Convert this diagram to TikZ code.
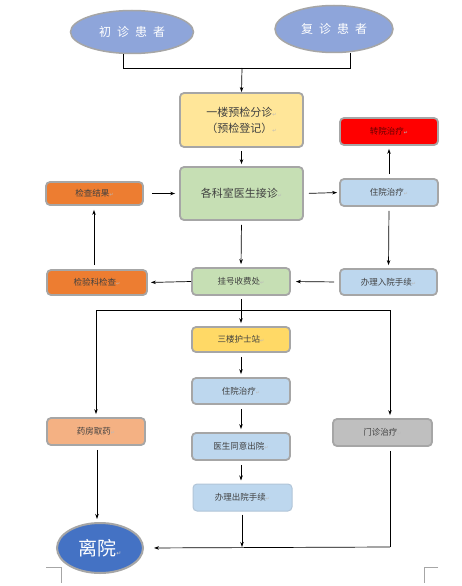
\documentclass[tikz,border=0pt]{standalone}
\usepackage{fontspec}
\usetikzlibrary{arrows.meta,shapes.geometric,calc}
\newfontfamily\cjk{Noto Sans CJK SC}
\newfontfamily\symf{DejaVu Sans}
\definecolor{bordg}{HTML}{A6A6A6}
\definecolor{ellfill}{HTML}{8EA5DA}
\definecolor{yel}{HTML}{FFE699}
\definecolor{grn}{HTML}{C6DFB4}
\definecolor{lblue}{HTML}{BDD7EE}
\definecolor{org}{HTML}{ED7D31}
\definecolor{gold}{HTML}{FFD966}
\definecolor{lorg}{HTML}{F4B183}
\definecolor{gry}{HTML}{BFBFBF}
\definecolor{dblue}{HTML}{4472C4}
\definecolor{txt}{HTML}{404040}
\newcommand{\parmark}{{\symf\fontsize{5}{5}\selectfont\textcolor{gray!55}{↵}}}
\tikzset{
  box/.style={draw=bordg, line width=1.8pt, rounded corners=4pt, minimum width=98pt, minimum height=27pt, inner sep=0pt, align=center, font=\cjk\fontsize{8.5}{10}\selectfont, text=txt},
  ell/.style={ellipse, draw=bordg, line width=1.5pt, fill=ellfill, inner sep=0pt, text=white, font=\cjk\fontsize{12}{14}\selectfont},
  arr/.style={-{Stealth[length=5pt,width=3.5pt]}, line width=0.7pt, black},
  ln/.style={line width=0.7pt, black},
  corner/.style={line width=0.8pt, gray!70}
}
\begin{document}
\begin{tikzpicture}[x=1pt,y=-1pt]
\useasboundingbox[fill=white] (0,0) rectangle (461,586);
% top ellipses
\node[ell, minimum width=123pt, minimum height=43pt] (p1) at (132,32) {初\hspace{6pt}诊\hspace{6pt}患\hspace{6pt}者};
\node[ell, minimum width=118pt, minimum height=47pt] (p2) at (334,29) {复\hspace{6pt}诊\hspace{6pt}患\hspace{6pt}者};
% boxes
\node[box, fill=yel, minimum width=123pt, minimum height=54pt, font=\cjk\fontsize{11}{16}\selectfont] (yj) at (241.5,120) {一楼预检分诊\parmark\\（预检登记）\parmark};
\node[box, fill=grn, minimum width=123pt, minimum height=53pt, font=\cjk\fontsize{11}{14}\selectfont] (gk) at (241.5,193.5) {各科室医生接诊\parmark};
\node[box, fill=red, text=red!40!black] (zy1) at (389,131.5) {转院治疗\parmark};
\node[box, fill=lblue] (zh1) at (389,192.5) {住院治疗\parmark};
\node[box, fill=org, minimum width=97pt, minimum height=23pt] (jc) at (94.5,193.5) {检查结果\parmark};
\node[box, fill=org, minimum width=100pt, minimum height=25pt] (jy) at (97,282.5) {检验科检查\parmark};
\node[box, fill=grn] (gh) at (241,281.5) {挂号收费处\parmark};
\node[box, fill=lblue, minimum width=97pt, minimum height=26pt] (rz) at (388.5,282) {办理入院手续\parmark};
\node[box, fill=gold, minimum height=25pt] (sl) at (241,339.5) {三楼护士站\parmark};
\node[box, fill=lblue, minimum height=26pt] (zh2) at (241,391) {住院治疗\parmark};
\node[box, fill=lorg] (yf) at (96,431.5) {药房取药\parmark};
\node[box, fill=gry, minimum width=99pt] (mz) at (382.5,432.5) {门诊治疗\parmark};
\node[box, fill=lblue] (ys) at (241,446.5) {医生同意出院\parmark};
\node[box, fill=lblue, draw=lblue!80!gray, line width=1pt, minimum width=99pt] (cy) at (242.5,497.5) {办理出院手续\parmark};
\node[ell, fill=dblue, minimum width=86pt, minimum height=50pt, line width=2pt, font=\cjk\fontsize{19}{22}\selectfont] (ly) at (100,548) {离院{\symf\fontsize{6}{6}\selectfont\textcolor{gray!40}{↵}}};
% junction coordinates
\coordinate (bus) at (242,68);
\coordinate (bl) at (123,68);
\coordinate (br) at (350,68);
\coordinate (b2) at (241,310);
\coordinate (b2l) at (96,310);
\coordinate (b2r) at (390,310);
\coordinate (b3) at (242,547);
\coordinate (b3r) at (390,547);
\coordinate (yfx) at (97,0);
% connectors
\draw[ln] ([xshift=-9pt]p1.south) -- (bl) -- (br) -- ([xshift=16pt]p2.south);
\draw[arr] (bus) -- (yj.north);
\draw[arr, shorten <=3pt, shorten >=2pt] (yj.south) -- (gk.north);
\draw[arr, shorten <=5pt, shorten >=2pt] (gk.east) -- (zh1.west);
\draw[arr, shorten <=4pt, shorten >=3pt] (zh1.north) -- (zy1.south);
\draw[arr, shorten <=4pt, shorten >=3pt] (zh1.south) -- (rz.north);
\draw[arr, shorten <=5pt, shorten >=5pt] (rz.west) -- (gh.east);
\draw[arr, shorten >=3pt] (gh.west) -- (jy.east);
\draw[arr, shorten <=4pt, shorten >=4pt] ([xshift=-3pt]jy.north) -- ([xshift=-0.5pt]jc.south);
\draw[arr, shorten <=8pt, shorten >=4pt] (jc.east) -- (gk.west);
\draw[arr, shorten <=4pt, shorten >=3pt] (gk.south) -- (gh.north);
\draw[ln] (b2l) -- (b2r);
\draw[arr, shorten <=3pt, shorten >=3pt] (gh.south) -- (sl.north);
\draw[arr, shorten >=3pt] (b2l) -- (yf.north);
\draw[arr, shorten >=3pt] (b2r) -- (mz.north -| b2r);
\draw[arr, shorten <=4pt, shorten >=3pt] (sl.south) -- (zh2.north);
\draw[arr, shorten <=4pt, shorten >=3pt] (zh2.south) -- (ys.north);
\draw[arr, shorten <=4pt, shorten >=3pt] (ys.south) -- (cy.north -| ys.south);
\draw[arr, shorten <=3pt] (cy.south -| b3) -- (b3);
\draw[ln] ([yshift=-4pt]mz.south -| b3r) -- (b3r);
\draw[arr, shorten >=10pt] (b3r) -- (ly.east);
\draw[arr, shorten <=4pt, shorten >=3pt] (yf.south -| yfx) -- (ly.north -| yfx);
% page corner marks
\draw[corner] (46,567) -- (61,567) -- (61,583);
\draw[corner] (438,567) -- (424,567) -- (424,583);
\end{tikzpicture}
\end{document}
